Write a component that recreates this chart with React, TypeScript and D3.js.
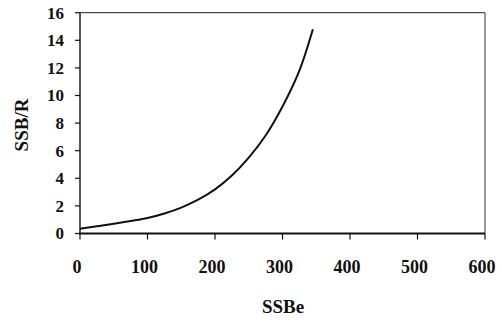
import React from "react";
import * as d3 from "d3";

const ssbe = [0, 25, 50, 75, 100, 125, 150, 175, 200, 225, 250, 275, 300, 325, 345];
const ssbR = [0.35, 0.52, 0.7, 0.9, 1.12, 1.45, 1.88, 2.45, 3.2, 4.2, 5.5, 7.1, 9.2, 11.8, 14.8];
const xTicks = [0, 100, 200, 300, 400, 500, 600];
const yTicks = [0, 2, 4, 6, 8, 10, 12, 14, 16];

export default function App() {
  const W = 502, H = 322;
  const left = 80, right = 485, top = 12.7, bottom = 233.5;
  const x = d3.scaleLinear().domain([0, 600]).range([left, right]);
  const y = d3.scaleLinear().domain([0, 16]).range([bottom, top]);
  const line = d3
    .line<number>()
    .x((_, i) => x(ssbe[i]))
    .y((d) => y(d))
    .curve(d3.curveCatmullRom.alpha(0.5));
  const font = "'Liberation Serif', 'Times New Roman', serif";
  return (
    <div style={{ position: "fixed", left: 0, top: 0 }}>
      <svg width={W} height={H} style={{ display: "block", background: "#fff" }}>
        <rect x={0} y={0} width={W} height={H} fill="#fff" />
        <line x1={left} x2={right} y1={top} y2={top} stroke="#222" strokeWidth={1} />
        <line x1={right} x2={right} y1={top} y2={bottom} stroke="#333" strokeWidth={1} />
        <line x1={left} x2={left} y1={top} y2={bottom + 1} stroke="#111" strokeWidth={1.4} />
        <line x1={left - 1} x2={right} y1={bottom} y2={bottom} stroke="#111" strokeWidth={2} />
        {yTicks.map((t) => (
          <g key={"y" + t}>
            <line x1={left - 5} x2={left} y1={y(t)} y2={y(t)} stroke="#111" strokeWidth={1.2} />
            <text
              x={64}
              y={y(t)}
              dy="0.35em"
              textAnchor="end"
              fontFamily={font}
              fontWeight="bold"
              fontSize={17}
              fill="#111"
            >
              {t}
            </text>
          </g>
        ))}
        {xTicks.map((t) => (
          <g key={"x" + t}>
            <line x1={x(t)} x2={x(t)} y1={bottom} y2={bottom + 6} stroke="#111" strokeWidth={1.2} />
            <text
              x={x(t) - 3}
              y={273}
              textAnchor="middle"
              fontFamily={font}
              fontWeight="bold"
              fontSize={18}
              fill="#111"
            >
              {t}
            </text>
          </g>
        ))}
        <path d={line(ssbR) || ""} fill="none" stroke="#111" strokeWidth={2} />
        <text
          transform={`translate(28,125) rotate(-90)`}
          textAnchor="middle"
          fontFamily={font}
          fontWeight="bold"
          fontSize={19}
          fill="#111"
        >
          SSB/R
        </text>
        <text
          x={283}
          y={313}
          textAnchor="middle"
          fontFamily={font}
          fontWeight="bold"
          fontSize={19}
          fill="#111"
        >
          SSBe
        </text>
      </svg>
    </div>
  );
}
